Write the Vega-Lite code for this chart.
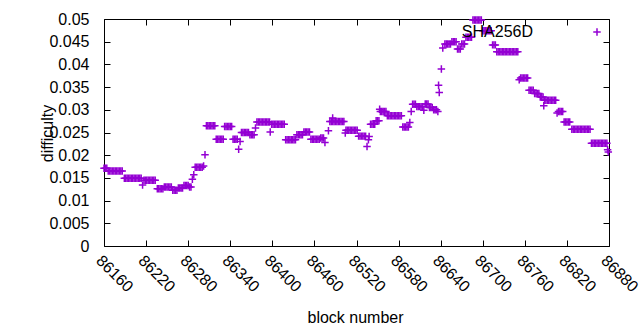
{
"$schema": "https://vega.github.io/schema/vega-lite/v6.json",
"width": 505, "height": 227,
"autosize": {"type": "none"},
"padding": {"left": 104, "top": 19, "right": 31, "bottom": 84},
"config": {
 "view": {"stroke": "#000", "strokeWidth": 1},
 "font": "Liberation Sans",
 "axis": {"domain": false, "grid": false, "tickColor": "#000", "tickWidth": 1, "labelFont": "Liberation Sans", "labelFontSize": 16, "labelColor": "#000", "titleFont": "Liberation Sans", "titleFontSize": 16, "titleFontWeight": "normal", "titleColor": "#000"}
},
"data": {"values": [
{"b":86160,"d":0.0171},{"b":86162,"d":0.0171},{"b":86164,"d":0.0171},
{"b":86166,"d":0.0165},{"b":86168,"d":0.0165},{"b":86170,"d":0.0165},{"b":86172,"d":0.0165},{"b":86174,"d":0.0165},{"b":86176,"d":0.0165},{"b":86178,"d":0.0165},{"b":86180,"d":0.0165},{"b":86182,"d":0.0165},{"b":86184,"d":0.0165},{"b":86186,"d":0.0165},
{"b":86189,"d":0.0149},{"b":86191,"d":0.0149},{"b":86193,"d":0.0149},{"b":86195,"d":0.0149},{"b":86197,"d":0.0149},{"b":86199,"d":0.0149},{"b":86201,"d":0.0149},{"b":86203,"d":0.0149},{"b":86205,"d":0.0149},{"b":86207,"d":0.0149},{"b":86209,"d":0.0149},{"b":86211,"d":0.0149},{"b":86213,"d":0.0149},
{"b":86215,"d":0.01345},
{"b":86217,"d":0.0145},{"b":86219,"d":0.0145},{"b":86221,"d":0.0145},{"b":86223,"d":0.0145},{"b":86225,"d":0.0145},{"b":86227,"d":0.0145},{"b":86229,"d":0.0145},{"b":86231,"d":0.0145},{"b":86233,"d":0.0145},
{"b":86236,"d":0.0126},{"b":86238,"d":0.0126},{"b":86240,"d":0.0126},{"b":86242,"d":0.0126},{"b":86244,"d":0.0126},
{"b":86246,"d":0.013},{"b":86248,"d":0.013},{"b":86250,"d":0.013},{"b":86252,"d":0.013},{"b":86254,"d":0.013},{"b":86256,"d":0.013},
{"b":86258,"d":0.0123},{"b":86260,"d":0.0123},{"b":86262,"d":0.0123},{"b":86264,"d":0.0123},
{"b":86266,"d":0.0128},{"b":86268,"d":0.0128},{"b":86270,"d":0.0128},{"b":86272,"d":0.0128},
{"b":86274,"d":0.01335},{"b":86276,"d":0.01335},{"b":86278,"d":0.01335},{"b":86280,"d":0.01335},
{"b":86282,"d":0.013},{"b":86284,"d":0.013},
{"b":86286,"d":0.0147},{"b":86288,"d":0.0157},
{"b":86290,"d":0.01735},{"b":86292,"d":0.01735},{"b":86294,"d":0.01735},{"b":86296,"d":0.01735},{"b":86298,"d":0.01735},{"b":86300,"d":0.01735},
{"b":86302,"d":0.0176},{"b":86304,"d":0.0201},
{"b":86306,"d":0.0265},{"b":86308,"d":0.0265},{"b":86310,"d":0.0265},{"b":86312,"d":0.0265},{"b":86314,"d":0.0265},{"b":86316,"d":0.0265},{"b":86318,"d":0.0265},
{"b":86320,"d":0.02353},{"b":86322,"d":0.02353},{"b":86324,"d":0.02353},{"b":86326,"d":0.02353},{"b":86328,"d":0.02353},{"b":86330,"d":0.02353},
{"b":86332,"d":0.0263},{"b":86334,"d":0.0263},{"b":86336,"d":0.0263},{"b":86338,"d":0.0263},{"b":86340,"d":0.0263},{"b":86342,"d":0.0263},
{"b":86344,"d":0.02353},{"b":86346,"d":0.02353},{"b":86348,"d":0.02353},{"b":86350,"d":0.02353},
{"b":86352,"d":0.0213},{"b":86354,"d":0.023},
{"b":86356,"d":0.025},{"b":86358,"d":0.025},{"b":86360,"d":0.025},{"b":86362,"d":0.025},{"b":86364,"d":0.025},{"b":86366,"d":0.025},
{"b":86368,"d":0.0245},{"b":86370,"d":0.0245},{"b":86372,"d":0.0245},{"b":86374,"d":0.0245},
{"b":86376,"d":0.026},
{"b":86378,"d":0.0273},{"b":86380,"d":0.0273},{"b":86382,"d":0.0273},{"b":86384,"d":0.0273},{"b":86386,"d":0.0273},{"b":86388,"d":0.0273},{"b":86390,"d":0.0273},{"b":86392,"d":0.0273},{"b":86394,"d":0.0273},{"b":86396,"d":0.0273},
{"b":86397,"d":0.0251},
{"b":86399,"d":0.0268},{"b":86401,"d":0.0268},{"b":86403,"d":0.0268},{"b":86405,"d":0.0268},{"b":86407,"d":0.0268},{"b":86409,"d":0.0268},{"b":86411,"d":0.0268},{"b":86413,"d":0.0268},{"b":86415,"d":0.0268},{"b":86417,"d":0.0268},
{"b":86419,"d":0.0234},{"b":86421,"d":0.0234},{"b":86423,"d":0.0234},{"b":86425,"d":0.0234},{"b":86427,"d":0.0234},{"b":86429,"d":0.0234},{"b":86431,"d":0.0234},{"b":86433,"d":0.0234},
{"b":86435,"d":0.0245},{"b":86437,"d":0.0245},{"b":86439,"d":0.0245},{"b":86441,"d":0.0245},{"b":86443,"d":0.0245},
{"b":86445,"d":0.0251},{"b":86447,"d":0.0251},{"b":86449,"d":0.0251},{"b":86451,"d":0.0251},{"b":86453,"d":0.0251},
{"b":86455,"d":0.02353},{"b":86457,"d":0.02353},{"b":86459,"d":0.02353},{"b":86461,"d":0.02353},{"b":86463,"d":0.02353},{"b":86465,"d":0.02353},{"b":86467,"d":0.02353},
{"b":86469,"d":0.0238},{"b":86471,"d":0.0238},{"b":86473,"d":0.0238},
{"b":86475,"d":0.0228},{"b":86480,"d":0.0254},
{"b":86482,"d":0.0274},{"b":86484,"d":0.0274},{"b":86486,"d":0.0274},{"b":86488,"d":0.0274},{"b":86490,"d":0.0274},{"b":86492,"d":0.0274},{"b":86494,"d":0.0274},{"b":86496,"d":0.0274},{"b":86498,"d":0.0274},{"b":86500,"d":0.0274},{"b":86502,"d":0.0274},
{"b":86486,"d":0.0282},
{"b":86504,"d":0.0249},
{"b":86505,"d":0.0255},{"b":86507,"d":0.0255},{"b":86509,"d":0.0255},{"b":86511,"d":0.0255},{"b":86513,"d":0.0255},{"b":86515,"d":0.0255},{"b":86517,"d":0.0255},{"b":86519,"d":0.0255},{"b":86521,"d":0.0255},
{"b":86523,"d":0.0242},{"b":86525,"d":0.0242},{"b":86527,"d":0.0242},{"b":86529,"d":0.0242},{"b":86531,"d":0.0242},{"b":86533,"d":0.0242},
{"b":86535,"d":0.0219},{"b":86537,"d":0.0234},{"b":86538,"d":0.0241},
{"b":86540,"d":0.0268},{"b":86542,"d":0.0268},{"b":86544,"d":0.0268},{"b":86546,"d":0.0268},
{"b":86548,"d":0.0276},{"b":86550,"d":0.0276},{"b":86552,"d":0.0276},
{"b":86553,"d":0.0301},
{"b":86554,"d":0.0296},{"b":86556,"d":0.0296},{"b":86558,"d":0.0296},{"b":86560,"d":0.0296},{"b":86562,"d":0.0296},
{"b":86564,"d":0.0287},{"b":86566,"d":0.0287},{"b":86568,"d":0.0287},{"b":86570,"d":0.0287},{"b":86572,"d":0.0287},{"b":86574,"d":0.0287},{"b":86576,"d":0.0287},{"b":86578,"d":0.0287},{"b":86580,"d":0.0287},{"b":86582,"d":0.0287},{"b":86584,"d":0.0287},
{"b":86586,"d":0.0262},{"b":86588,"d":0.0262},{"b":86590,"d":0.0262},{"b":86592,"d":0.0262},{"b":86594,"d":0.0262},
{"b":86596,"d":0.0272},{"b":86598,"d":0.0296},
{"b":86600,"d":0.0312},{"b":86602,"d":0.0312},{"b":86604,"d":0.0312},
{"b":86606,"d":0.0307},{"b":86608,"d":0.0307},{"b":86610,"d":0.0307},{"b":86612,"d":0.0307},{"b":86614,"d":0.0307},
{"b":86616,"d":0.0299},
{"b":86618,"d":0.0313},{"b":86620,"d":0.0313},{"b":86622,"d":0.0313},
{"b":86624,"d":0.0305},{"b":86626,"d":0.0305},{"b":86628,"d":0.0305},
{"b":86630,"d":0.030},{"b":86632,"d":0.030},{"b":86634,"d":0.030},
{"b":86636,"d":0.0296},{"b":86637,"d":0.0354},{"b":86638,"d":0.0338},
{"b":86641,"d":0.039},{"b":86643,"d":0.0436},
{"b":86646,"d":0.0445},{"b":86648,"d":0.0445},{"b":86650,"d":0.0445},{"b":86652,"d":0.0445},{"b":86654,"d":0.0445},
{"b":86656,"d":0.045},{"b":86658,"d":0.045},{"b":86660,"d":0.045},{"b":86662,"d":0.045},
{"b":86664,"d":0.0434},{"b":86666,"d":0.0434},{"b":86668,"d":0.0434},
{"b":86670,"d":0.0445},{"b":86672,"d":0.0445},{"b":86674,"d":0.0445},
{"b":86676,"d":0.046},{"b":86678,"d":0.046},{"b":86680,"d":0.046},{"b":86682,"d":0.046},{"b":86684,"d":0.046},
{"b":86686,"d":0.0498},{"b":86688,"d":0.0498},{"b":86690,"d":0.0498},{"b":86692,"d":0.0498},{"b":86694,"d":0.0498},{"b":86696,"d":0.0498},{"b":86698,"d":0.0498},
{"b":86700,"d":0.0474},{"b":86702,"d":0.0474},{"b":86704,"d":0.0474},{"b":86706,"d":0.0474},{"b":86708,"d":0.0474},{"b":86710,"d":0.0474},{"b":86712,"d":0.0474},
{"b":86714,"d":0.0443},{"b":86716,"d":0.0443},{"b":86718,"d":0.0443},
{"b":86720,"d":0.0428},{"b":86722,"d":0.0428},{"b":86724,"d":0.0428},{"b":86726,"d":0.0428},{"b":86728,"d":0.0428},{"b":86730,"d":0.0428},{"b":86732,"d":0.0428},{"b":86734,"d":0.0428},{"b":86736,"d":0.0428},{"b":86738,"d":0.0428},{"b":86740,"d":0.0428},{"b":86742,"d":0.0428},{"b":86744,"d":0.0428},{"b":86746,"d":0.0428},{"b":86748,"d":0.0428},{"b":86750,"d":0.0428},
{"b":86752,"d":0.0366},
{"b":86754,"d":0.037},{"b":86756,"d":0.037},{"b":86758,"d":0.037},{"b":86760,"d":0.037},{"b":86762,"d":0.037},{"b":86764,"d":0.037},
{"b":86766,"d":0.0343},{"b":86768,"d":0.0343},{"b":86770,"d":0.0343},{"b":86772,"d":0.0343},
{"b":86774,"d":0.0336},{"b":86776,"d":0.0336},{"b":86778,"d":0.0336},{"b":86780,"d":0.0336},
{"b":86782,"d":0.0328},{"b":86784,"d":0.0328},{"b":86786,"d":0.0328},
{"b":86787,"d":0.0309},
{"b":86788,"d":0.0321},{"b":86790,"d":0.0321},{"b":86792,"d":0.0321},{"b":86794,"d":0.0321},{"b":86796,"d":0.0321},{"b":86798,"d":0.0321},{"b":86800,"d":0.0321},{"b":86802,"d":0.0321},{"b":86804,"d":0.0321},
{"b":86806,"d":0.0293},
{"b":86808,"d":0.0296},{"b":86810,"d":0.0296},{"b":86812,"d":0.0296},{"b":86814,"d":0.0296},
{"b":86816,"d":0.0273},{"b":86818,"d":0.0273},{"b":86820,"d":0.0273},{"b":86822,"d":0.0273},{"b":86824,"d":0.0273},
{"b":86827,"d":0.0257},{"b":86829,"d":0.0257},{"b":86831,"d":0.0257},{"b":86833,"d":0.0257},{"b":86835,"d":0.0257},{"b":86837,"d":0.0257},{"b":86839,"d":0.0257},{"b":86841,"d":0.0257},{"b":86843,"d":0.0257},{"b":86845,"d":0.0257},{"b":86847,"d":0.0257},{"b":86849,"d":0.0257},{"b":86851,"d":0.0257},{"b":86853,"d":0.0257},
{"b":86855,"d":0.02265},{"b":86857,"d":0.02265},{"b":86859,"d":0.02265},{"b":86861,"d":0.02265},{"b":86863,"d":0.02265},{"b":86865,"d":0.02265},{"b":86867,"d":0.02265},{"b":86869,"d":0.02265},{"b":86871,"d":0.02265},{"b":86873,"d":0.02265},{"b":86875,"d":0.02265},{"b":86877,"d":0.02265},
{"b":86878,"d":0.0212},{"b":86879,"d":0.0207}
]},
"layer": [
 {
  "mark": {"type": "point", "shape": "M-1,0H1M0,-1V1", "filled": false, "size": 56, "strokeWidth": 1.5, "opacity": 1},
  "encoding": {
   "x": {"field": "b", "type": "quantitative", "scale": {"domain": [86160, 86880], "nice": false, "zero": false},
     "axis": {"orient": "bottom", "values": [86160,86220,86280,86340,86400,86460,86520,86580,86640,86700,86760,86820,86880], "format": "d", "labelAngle": 45, "labelAlign": "left", "labelBaseline": "top", "tickSize": -6, "labelPadding": 12, "labelDx": 3, "labelFlush": false, "labelOverlap": false, "title": "block number", "titleX": 251, "titleY": 76, "titleBaseline": "alphabetic"}},
   "y": {"field": "d", "type": "quantitative", "scale": {"domain": [0, 0.05], "nice": false},
     "axis": {"orient": "left", "values": [0,0.005,0.01,0.015,0.02,0.025,0.03,0.035,0.04,0.045,0.05], "format": "~g", "tickSize": -6, "labelPadding": 21, "labelFlush": false, "labelOverlap": false, "title": "difficulty", "titleX": -57, "titleY": 114, "titleAngle": -90, "titleBaseline": "middle", "titleAlign": "center"}},
   "color": {"datum": "SHA256D", "type": "nominal", "scale": {"range": ["#9400d3"]},
     "legend": {"title": null, "orient": "none", "legendX": 485, "legendY": 5, "padding": 0, "labelFont": "Liberation Sans", "labelFontSize": 16, "labelColor": "#000", "labelAlign": "right", "labelOffset": -72, "symbolType": "M-1,0H1M0,-1V1", "symbolSize": 56, "symbolStrokeWidth": 1.5}}
  }
 },
 {
  "mark": {"type": "point", "opacity": 0},
  "encoding": {
   "x": {"field": "b", "type": "quantitative", "axis": {"orient": "top", "values": [86160,86220,86280,86340,86400,86460,86520,86580,86640,86700,86760,86820,86880], "labels": false, "tickSize": -6, "title": null}},
   "y": {"field": "d", "type": "quantitative", "axis": {"orient": "right", "values": [0,0.005,0.01,0.015,0.02,0.025,0.03,0.035,0.04,0.045,0.05], "labels": false, "tickSize": -6, "title": null}}
  }
 }
],
"resolve": {"axis": {"x": "independent", "y": "independent"}}
}
